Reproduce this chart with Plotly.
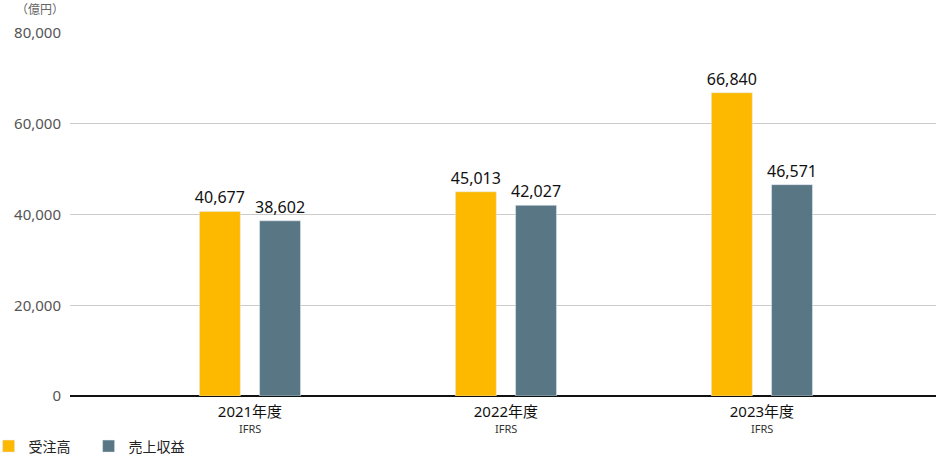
import plotly.graph_objects as go

years = ['2021年度', '2022年度', '2023年度']
orders = [40677, 45013, 66840]       # 受注高
revenue = [38602, 42027, 46571]      # 売上収益
y_ticks = [0, 20000, 40000, 60000, 80000]
sub_label = 'IFRS'

font = "Noto Sans, Noto Sans CJK JP"

fig = go.Figure()
fig.add_trace(go.Bar(x=years, y=orders, name='受注高', marker_color='#FDB800',
                     texttemplate='%{y:,}', textposition='outside', cliponaxis=False,
                     constraintext='none', textfont=dict(size=16, color='#111')))
fig.add_trace(go.Bar(x=years, y=revenue, name='売上収益', marker_color='#587683',
                     texttemplate='%{y:,}', textposition='outside', cliponaxis=False,
                     constraintext='none', textfont=dict(size=16, color='#111')))

# IFRS under each year label
notes = [dict(text=sub_label, x=y, y=0, xref='x', yref='y', yanchor='top',
              yshift=-23, showarrow=False, font=dict(size=11, color='#333'))
         for y in years]
notes.append(dict(text='（億円）', x=0, y=1, xref='paper', yref='paper',
                  xshift=-56, yshift=24, xanchor='left', yanchor='middle',
                  showarrow=False, font=dict(size=12, color='#666')))

fig.update_layout(
    width=936, height=456,
    margin=dict(l=70, r=0, t=33, b=60, autoexpand=False),
    paper_bgcolor='white', plot_bgcolor='white',
    font=dict(family=font, size=14, color='#555'),
    barmode='group', bargap=0.53, bargroupgap=0.32,
    showlegend=True,
    legend=dict(orientation='h', x=-0.094, xanchor='left', y=-0.095, yanchor='top',
                font=dict(size=14, color='#222'), itemwidth=30,
                entrywidth=55, traceorder='normal'),
    annotations=notes,
)
fig.update_xaxes(range=[-0.703, 2.68], showgrid=False, ticks='',
                 tickfont=dict(size=15, color='#111'), showline=False,
                 ticklabelstandoff=5)
fig.update_yaxes(range=[0, 80000], tickvals=y_ticks, tickformat=',',
                 gridcolor='#cccccc', gridwidth=1, zeroline=True,
                 zerolinecolor='#111', zerolinewidth=1.5,
                 tickfont=dict(size=15, color='#555'), ticklabelstandoff=8)

fig.write_html("out.html", config={'displayModeBar': False},
               post_script="document.body.style.margin='0';")
